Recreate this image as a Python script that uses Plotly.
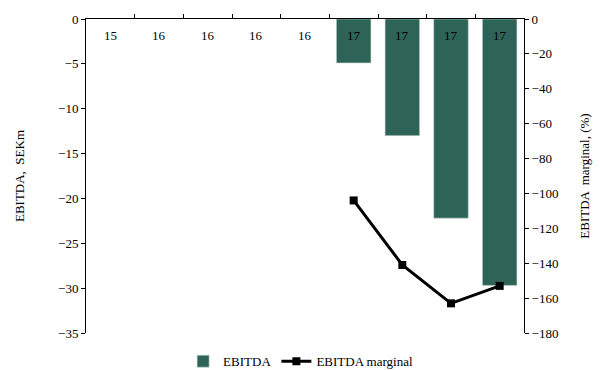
import plotly.graph_objects as go

# Period labels (year) for each bar slot
categories = ["15", "16", "16", "16", "16", "17", "17", "17", "17"]
# EBITDA, SEKm (no result in the first five periods)
ebitda = [None, None, None, None, None, -4.9, -13.0, -22.2, -29.7]
# EBITDA margin, %
ebitda_margin = [None, None, None, None, None, -104, -141, -163, -153]

x = list(range(len(categories)))
bar_color = "#2E6357"
font_family = "Times New Roman, Liberation Serif, serif"
font_size = 13

fig = go.Figure()
fig.add_trace(go.Bar(
    x=x, y=ebitda, name="EBITDA",
    marker=dict(color=bar_color, line=dict(color="#c9d6d2", width=0.6)),
    width=0.71, yaxis="y",
))
fig.add_trace(go.Scatter(
    x=x, y=ebitda_margin, name="EBITDA marginal",
    mode="lines+markers",
    line=dict(color="black", width=3),
    marker=dict(symbol="square", size=8, color="black"),
    yaxis="y2",
))

# Period labels sit just under the zero line, centred on each slot
for xi, label in zip(x, categories):
    fig.add_annotation(
        x=xi, y=0, xref="x", yref="y", text=label, showarrow=False,
        yanchor="middle", yshift=-16, font=dict(size=font_size, color="black"),
    )

fig.update_layout(
    width=600, height=370,
    margin=dict(l=86, r=76, t=19, b=37, autoexpand=False),
    paper_bgcolor="white", plot_bgcolor="white",
    font=dict(family=font_family, size=font_size, color="black"),
    showlegend=True,
    legend=dict(orientation="h", x=0.49, xanchor="center", y=-0.09, yanchor="middle",
                font=dict(size=font_size), itemwidth=30, tracegroupgap=0,
                bgcolor="rgba(0,0,0,0)"),
    xaxis=dict(
        range=[-0.5, len(categories) - 0.5],
        side="top",
        tickmode="array",
        tickvals=[i + 0.5 for i in range(len(categories) - 1)],
        showticklabels=False,
        ticks="outside", ticklen=4, tickcolor="black", tickwidth=1,
        showline=True, linecolor="black", linewidth=1,
        showgrid=False, zeroline=False,
    ),
    yaxis=dict(
        range=[-35, 0], dtick=5,
        title=dict(text="EBITDA,  SEKm", font=dict(size=font_size), standoff=30),
        showline=True, linecolor="black", linewidth=1,
        ticks="outside", ticklen=4, tickcolor="black",
        showgrid=False, zeroline=False,
    ),
    yaxis2=dict(
        range=[-180, 0], dtick=20,
        overlaying="y", side="right",
        title=dict(text="EBITDA  marginal, (%)", font=dict(size=font_size), standoff=22),
        showline=True, linecolor="black", linewidth=1,
        ticks="outside", ticklen=4, tickcolor="black",
        showgrid=False, zeroline=False,
    ),
)

fig.write_html("out.html")
